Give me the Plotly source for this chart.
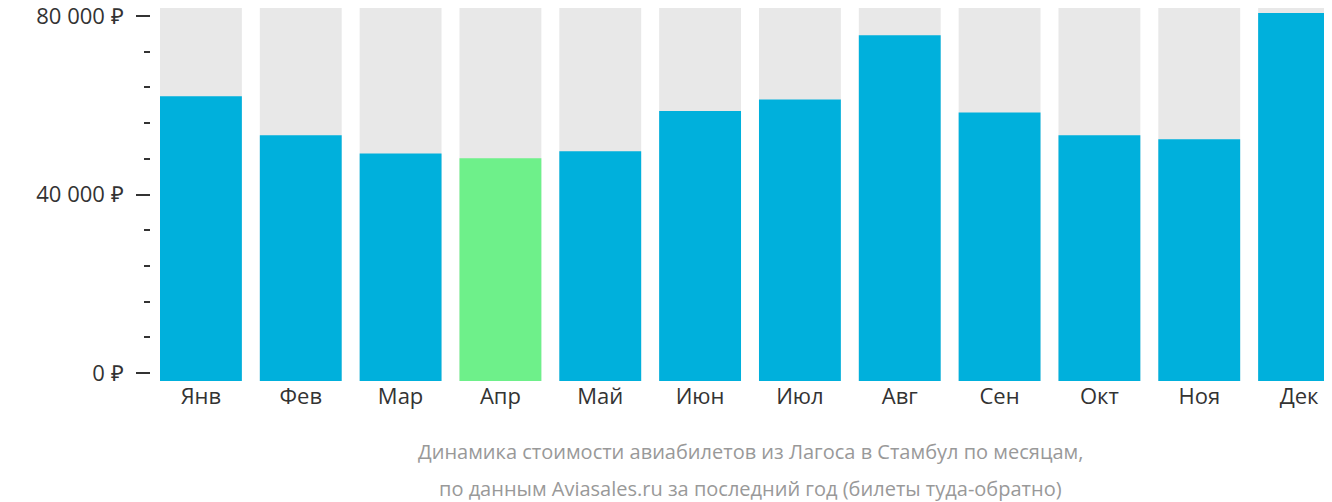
import plotly.graph_objects as go

months = ["Янв", "Фев", "Мар", "Апр", "Май", "Июн", "Июл", "Авг", "Сен", "Окт", "Ноя", "Дек"]
prices = [62000, 53300, 49200, 48100, 49700, 58700, 61300, 75700, 58400, 53300, 52400, 80700]
cheapest = "Апр"
y_top = 81800
y_bottom = -1800

colors = ["#6ef08a" if m == cheapest else "#00b0dc" for m in months]

fig = go.Figure()
fig.add_bar(x=months, y=[y_top - y_bottom] * len(months), base=y_bottom,
            marker=dict(color="#e8e8e8", line_width=0), hoverinfo="skip")
fig.add_bar(x=months, y=[p - y_bottom for p in prices], base=y_bottom,
            marker=dict(color=colors, line_width=0))

fig.update_layout(
    width=1332, height=502, barmode="overlay", bargap=0.18, showlegend=False,
    plot_bgcolor="white", paper_bgcolor="white",
    margin=dict(l=142, r=0, t=0, b=129, autoexpand=False),
    font=dict(family="Open Sans", size=22, color="#333"),
    xaxis=dict(domain=[10 / 1190, 1], range=[-0.41, 11.41], showgrid=False,
               ticks="", tickfont_size=22),
    yaxis=dict(range=[y_bottom, y_top], anchor="free", position=0,
               tickvals=[0, 40000, 80000], ticktext=["0 ₽", "40 000 ₽", "80 000 ₽"],
               ticks="outside", ticklen=14, tickwidth=2, tickcolor="#333",
               ticklabelstandoff=8, ticklabeloverflow="allow",
               showgrid=False, zeroline=False, showline=False,
               minor=dict(dtick=8000, tick0=0, ticks="outside", ticklen=6,
                          tickwidth=2, tickcolor="#333", showgrid=False)),
)
caption = ["Динамика стоимости авиабилетов из Лагоса в Стамбул по месяцам,",
           "по данным Aviasales.ru за последний год (билеты туда-обратно)"]
for i, line in enumerate(caption):
    fig.add_annotation(text=line, xref="paper", yref="paper", x=0.5 + 5 / 1190,
                       y=-(444 - 373 + 36 * i) / 373, yanchor="middle",
                       showarrow=False, font=dict(size=20, color="#999"))
fig.write_html("out.html")
